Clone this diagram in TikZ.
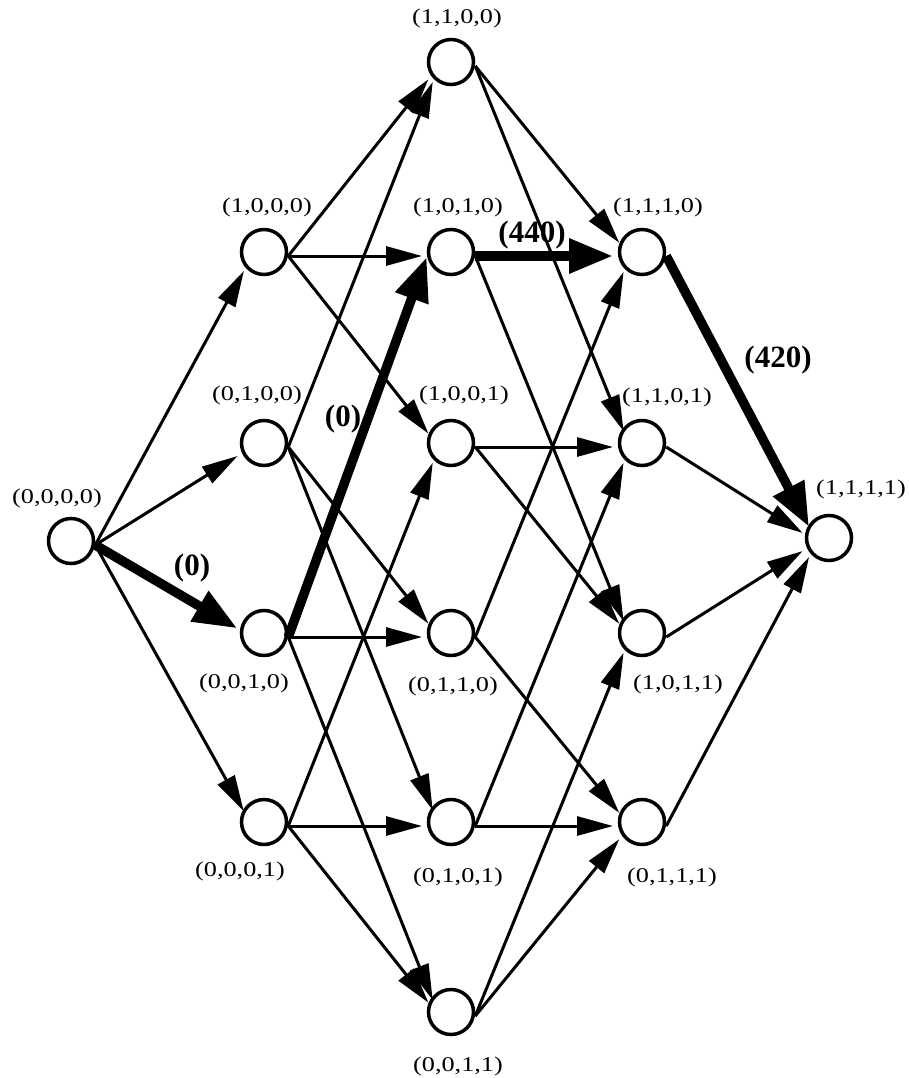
\documentclass[tikz,border=0pt]{standalone}
\usepackage{fontspec}
\setmainfont{Liberation Serif}
\newfontfamily\lblfont[FakeStretch=1.25]{Liberation Serif}
\usetikzlibrary{arrows.meta,calc}
\begin{document}
\begin{tikzpicture}[x=1pt,y=-1pt,
  st/.style={circle,draw,fill=white,line width=3.5pt,minimum size=45pt,inner sep=0pt},
  lbl/.style={font=\lblfont\fontsize{21}{21}\selectfont,inner sep=0pt},
  wt/.style={font=\bfseries\fontsize{31}{31}\selectfont,inner sep=0pt},
  edge/.style={line width=3pt,-{Triangle[length=36pt,width=19pt]},shorten >=17pt},
  hot/.style={line width=9.5pt,-{Triangle[length=44pt,width=33pt]},shorten >=17pt}]
\useasboundingbox (0,0) rectangle (909,1078);
% states
\node[st] (n0000) at (71,541) {};
\node[st] (n1000) at (264,252) {};
\node[st] (n0100) at (264,443) {};
\node[st] (n0010) at (264,633) {};
\node[st] (n0001) at (264,822) {};
\node[st] (n1100) at (451,62) {};
\node[st] (n1010) at (451,252) {};
\node[st] (n1001) at (451,443) {};
\node[st] (n0110) at (451,633) {};
\node[st] (n0101) at (451,822) {};
\node[st] (n0011) at (451,1012) {};
\node[st] (n1110) at (642,252) {};
\node[st] (n1101) at (642,443) {};
\node[st] (n1011) at (642,633) {};
\node[st] (n0111) at (642,822) {};
\node[st] (n1111) at (829,538) {};
% labels
\node[lbl] (l0000) at (57,498) {(0,0,0,0)};
\node[lbl] (l1000) at (267,207) {(1,0,0,0)};
\node[lbl] (l0100) at (257,395) {(0,1,0,0)};
\node[lbl] (l0010) at (244,683) {(0,0,1,0)};
\node[lbl] (l0001) at (240,871) {(0,0,0,1)};
\node[lbl] (l1100) at (457,18) {(1,1,0,0)};
\node[lbl] (l1010) at (458,207) {(1,0,1,0)};
\node[lbl] (l1001) at (464,395) {(1,0,0,1)};
\node[lbl] (l0110) at (453,686) {(0,1,1,0)};
\node[lbl] (l0101) at (458,877) {(0,1,0,1)};
\node[lbl] (l0011) at (458,1066) {(0,0,1,1)};
\node[lbl] (l1110) at (658,207) {(1,1,1,0)};
\node[lbl] (l1101) at (667,397) {(1,1,0,1)};
\node[lbl] (l1011) at (678,684) {(1,0,1,1)};
\node[lbl] (l0111) at (672,877) {(0,1,1,1)};
\node[lbl] (l1111) at (861,489) {(1,1,1,1)};
% ordinary transitions
\foreach \a/\b in {0000/1000,0000/0100,0000/0001,
  1000/1100,1000/1010,1000/1001,
  0100/1100,0100/0110,0100/0101,
  0010/0110,0010/0011,
  0001/1001,0001/0101,0001/0011,
  1100/1110,1100/1101,
  1010/1011,
  1001/1101,1001/1011,
  0110/1110,0110/0111,
  0101/1101,0101/0111,
  0011/1011,0011/0111,
  1101/1111,1011/1111,0111/1111}
  \draw[edge] ($(n\a.east)+(0,4)$) -- ($(n\b.center)+(-12,4)$);
% highlighted path
\foreach \a/\b in {0000/0010,1010/1110,1110/1111}
  \draw[hot] ($(n\a.east)+(0,4)$) -- ($(n\b.center)+(-12,4)$);
\draw[hot,shorten >=0pt] ($(n0010.east)+(0,4)$) -- ($(n1010.west)+(0,5)$);
% weights
\node[wt] (w1) at (192,568) {(0)};
\node[wt] (w2) at (343,419) {(0)};
\node[wt] (w3) at (532,235) {(440)};
\node[wt] (w4) at (778,360) {(420)};
\end{tikzpicture}
\end{document}
